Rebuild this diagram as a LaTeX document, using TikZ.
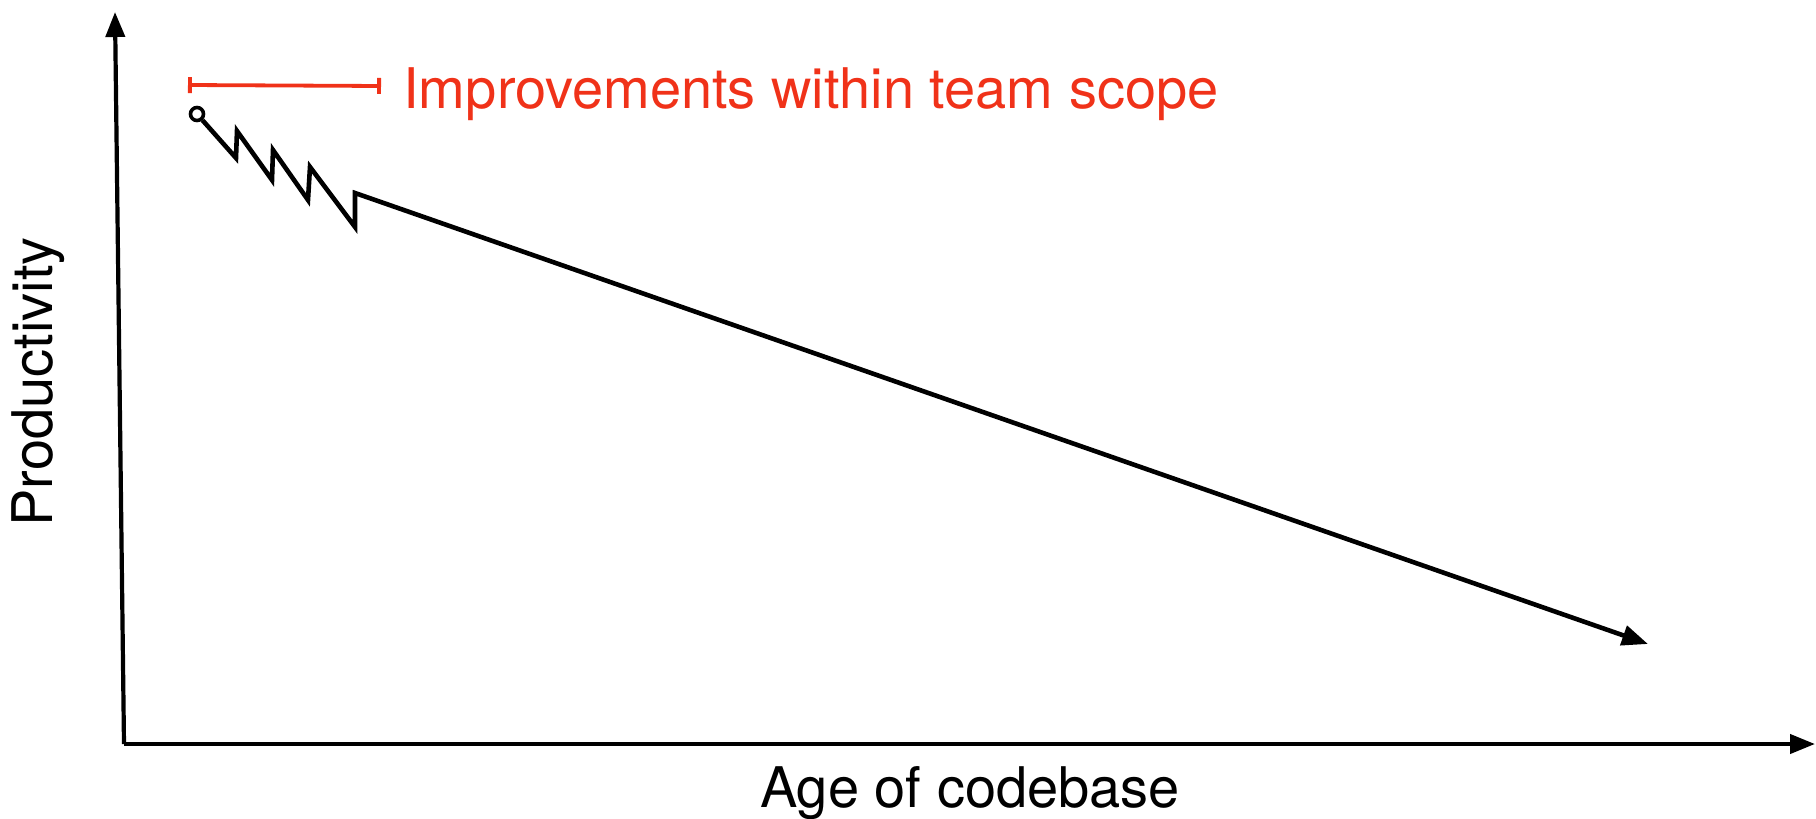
\documentclass[tikz,border=0pt]{standalone}
\usepackage{fontspec}
\setmainfont{TeX Gyre Heros}
\usepackage{tikz}
\usetikzlibrary{arrows.meta}
\definecolor{scopered}{RGB}{240,50,25}
\tikzstyle{axis} = [line width=2.1pt, -{Triangle[length=12.5pt,width=9.5pt]}]
\tikzstyle{trend} = [line width=2.3pt, line join=miter, -{Triangle[length=13pt,width=10pt]}]
\tikzstyle{scope} = [line width=1.9pt, draw=scopered, {Bar[width=8pt]}-{Bar[width=8pt]}]
\tikzstyle{label} = [font=\fontsize{28}{34}\selectfont, inner sep=0pt]
\tikzstyle{dot} = [circle, draw, line width=1.8pt, fill=white, minimum size=6.5pt, inner sep=0pt]

\begin{document}
\begin{tikzpicture}[x=0.5pt, y=-0.5pt]
    \useasboundingbox (0,0) rectangle (1816,819);
    % axes
    \coordinate (origin) at (124,744);
    \coordinate (xend) at (1815,744);
    \coordinate (yend) at (115,12);
    \draw [axis] (origin) -- (xend);
    \draw [axis] (origin) -- (yend);
    \node (xlabel) [label, anchor=base] at (970,807) {Age of codebase};
    \node (ylabel) [label, anchor=base, rotate=90] at (53,382) {Productivity};
    % team scope
    \coordinate (scopeL) at (188,85);
    \coordinate (scopeR) at (381,86);
    \draw [scope] (scopeL) -- (scopeR);
    \node (scopetext) [label, text=scopered, anchor=base west] at (403,108) {Improvements within team scope};
    % productivity over time
    \node (start) [dot] at (197,114) {};
    \coordinate (finish) at (1648,644);
    \draw [trend] (start) -- (236,158) -- (237,131) -- (272,180) -- (273,150)
        -- (308,200) -- (310,167) -- (355,227) -- (355,193) -- (finish);
\end{tikzpicture}
\end{document}
